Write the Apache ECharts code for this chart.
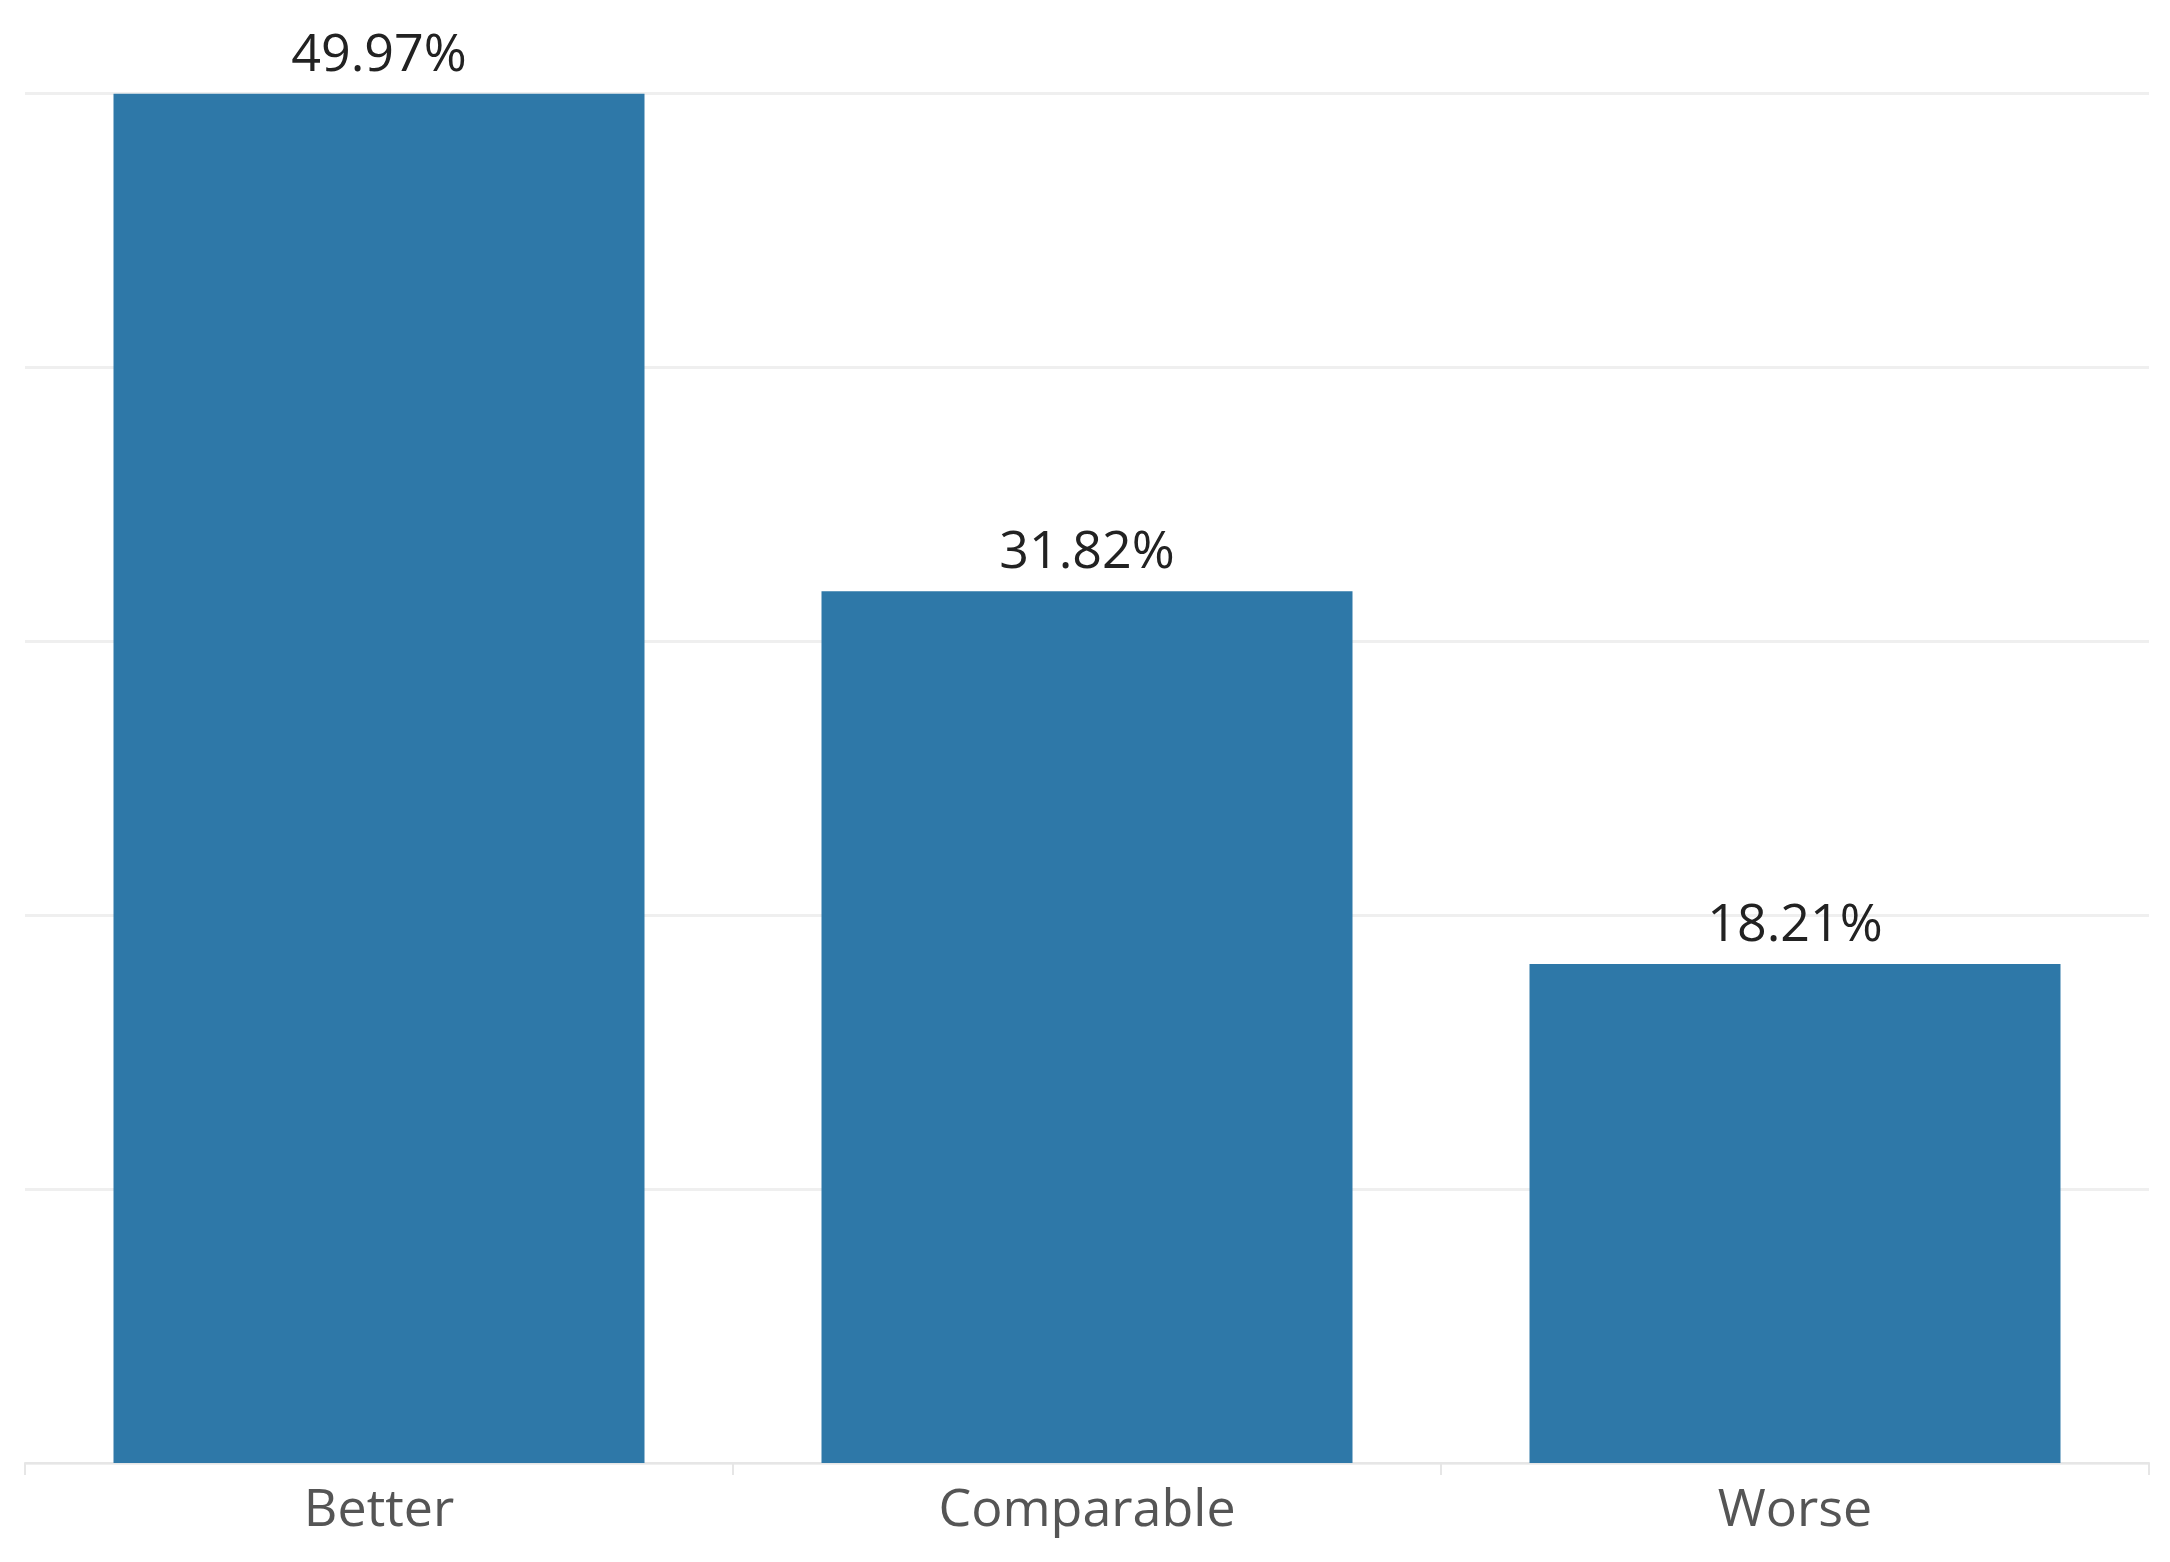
<!DOCTYPE html>
<html><head><meta charset="utf-8">
<script src="https://cdn.jsdelivr.net/npm/echarts@6/dist/echarts.min.js"></script>
<style>html,body{margin:0;padding:0;background:#fff}#c{width:2170px;height:1562px}</style>
</head><body><div id="c"></div>
<script>
const categories = ["Better", "Comparable", "Worse"];
const values = [49.97, 31.82, 18.21];
const chart = echarts.init(document.getElementById('c'));
chart.setOption({
  animation: false,
  grid: {left: 25, right: 21, top: 93, bottom: 99},
  xAxis: {
    type: 'category', data: categories,
    axisLine: {lineStyle: {color: '#e6e6e6', width: 2}},
    axisTick: {show: true, length: 12, lineStyle: {color: '#e6e6e6', width: 2}},
    axisLabel: {color: '#555', fontSize: 52, fontFamily: 'Open Sans, Noto Sans, sans-serif', margin: 22}
  },
  yAxis: {
    type: 'value', min: 0, max: 50, interval: 10,
    axisLabel: {show: false}, axisLine: {show: false}, axisTick: {show: false},
    splitLine: {lineStyle: {color: '#efefef', width: 3}}
  },
  series: [{
    type: 'bar', data: values, barWidth: '75%',
    itemStyle: {color: '#2e78a8'},
    label: {show: true, position: 'top', distance: 12, color: '#222', fontSize: 52,
      fontFamily: 'Open Sans, Noto Sans, sans-serif', formatter: p => p.value.toFixed(2) + '%'}
  }]
});
</script></body></html>
